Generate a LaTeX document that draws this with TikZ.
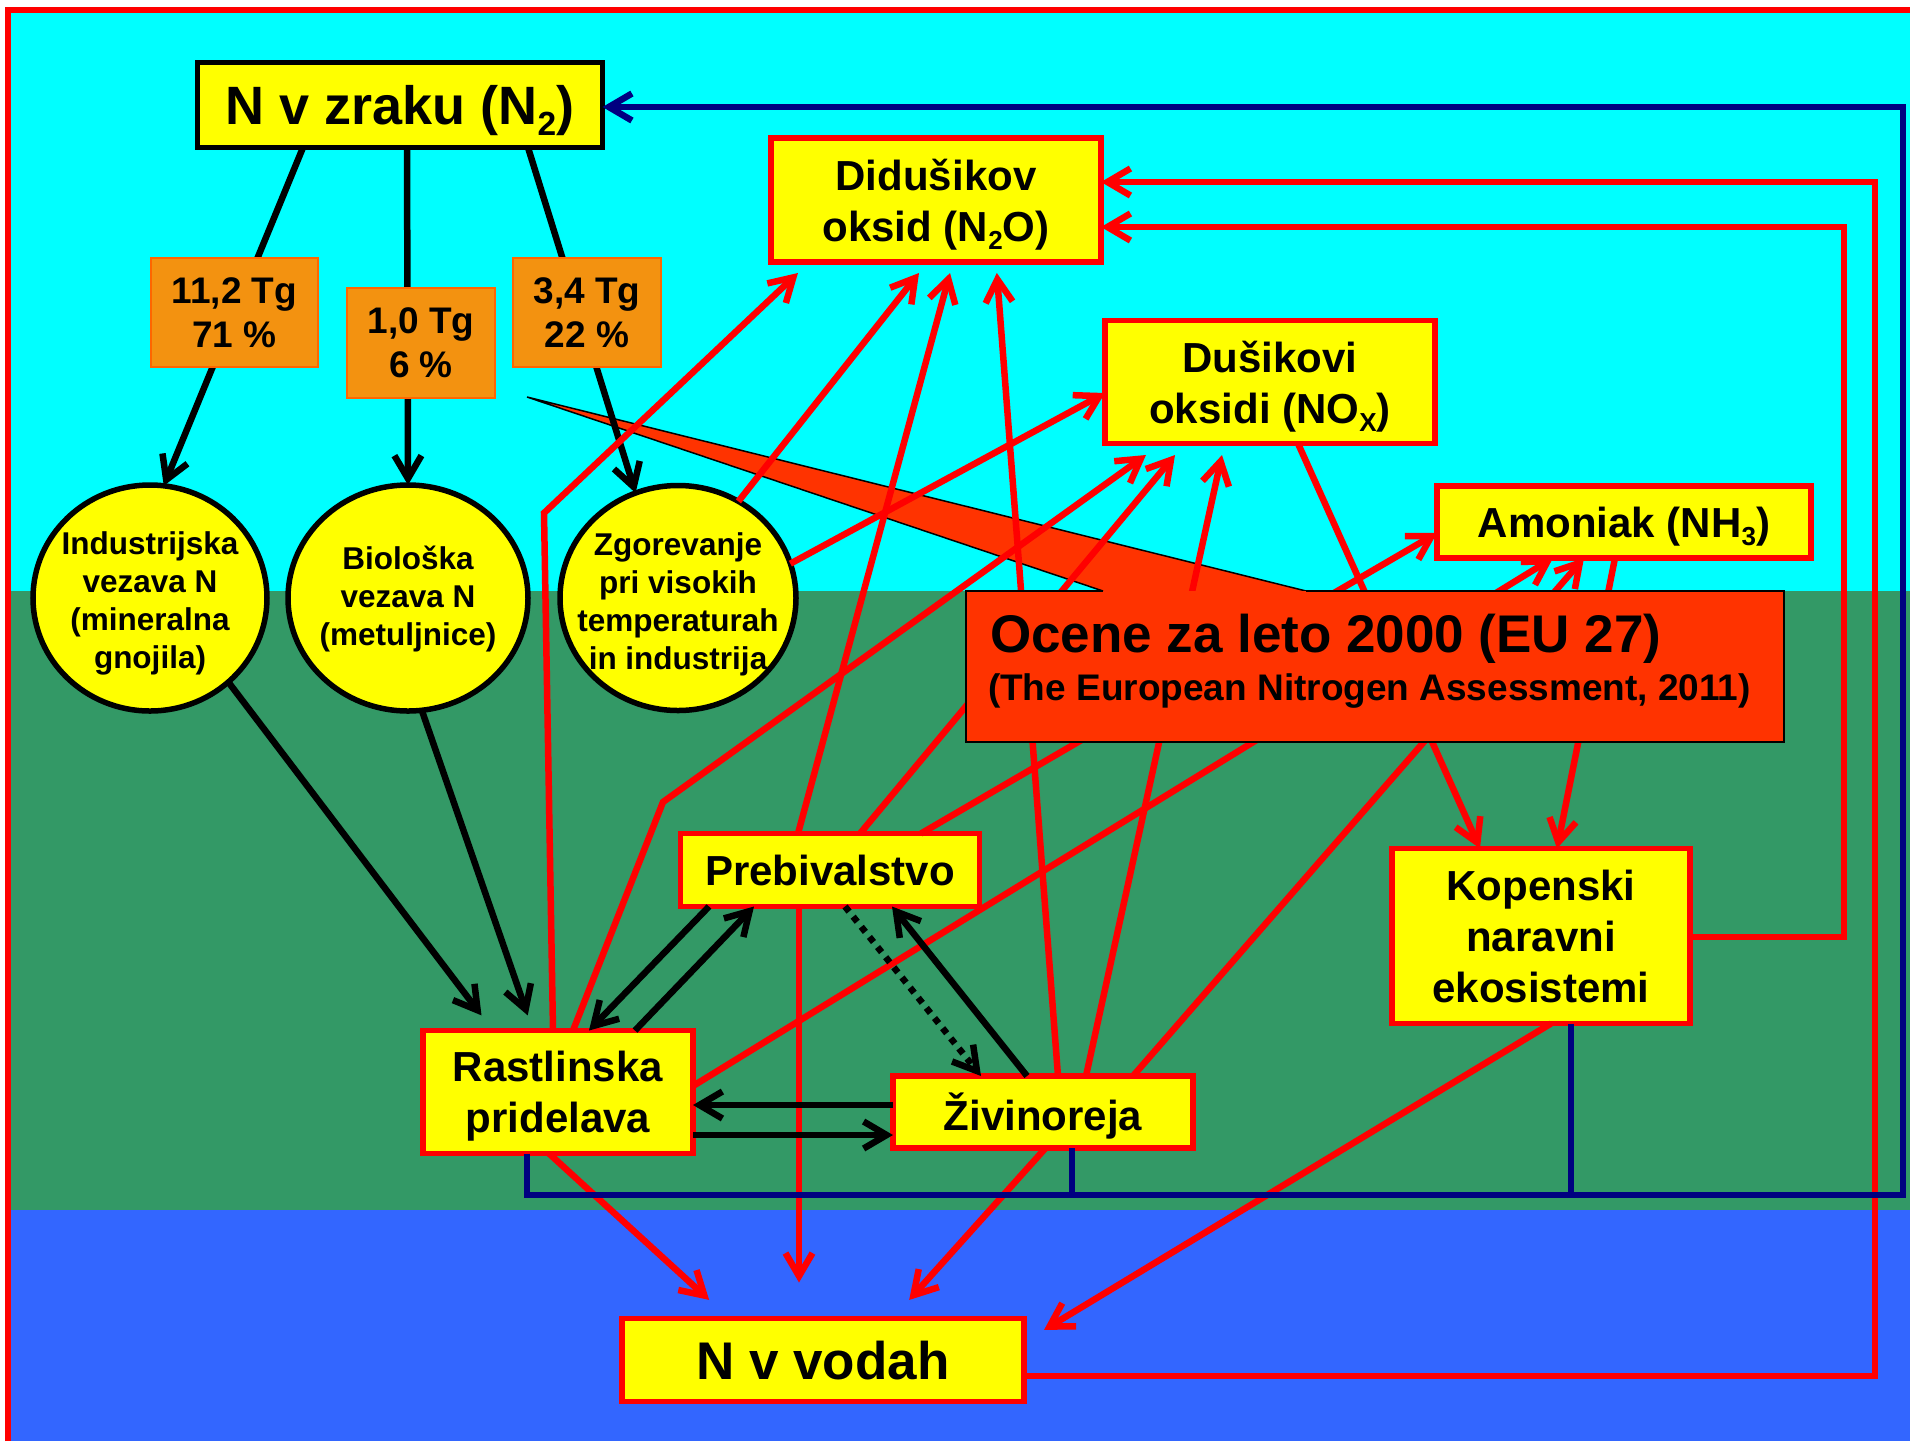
\documentclass[tikz,border=0pt]{standalone}
\usepackage{graphicx}
\usepackage{fontspec}
\setmainfont{Liberation Sans}
\usetikzlibrary{arrows.meta,shapes.geometric}

\definecolor{skyc}{RGB}{0,255,255}
\definecolor{landc}{RGB}{51,153,102}
\definecolor{waterc}{RGB}{51,102,255}
\definecolor{boxy}{RGB}{255,255,0}
\definecolor{flowred}{RGB}{255,0,0}
\definecolor{returnnavy}{RGB}{0,0,128}
\definecolor{tagorange}{RGB}{243,146,16}
\definecolor{tagedge}{RGB}{255,102,0}
\definecolor{notec}{RGB}{255,51,0}

% lowered chemical index
\newcommand\lowidx[1]{\raisebox{-0.2em}{\scalebox{0.62}{#1}}}

\tikzset{
  tight/.style={inner sep=0pt, outer sep=0pt},
  redbox/.style={tight, rectangle, draw=flowred, line width=5.5pt, fill=boxy,
    font=\fontsize{42}{51}\selectfont\bfseries, align=center, text depth=0pt},
  airbox/.style={redbox, draw=black, line width=5.5pt,
    font=\fontsize{54}{60}\selectfont\bfseries},
  tagbox/.style={tight, rectangle, fill=tagorange, draw=tagedge, line width=2pt,
    font=\fontsize{37}{44}\selectfont\bfseries, align=center, text depth=0pt},
  fixoval/.style={tight, ellipse, draw=black, line width=5.5pt, fill=boxy},
  ovaltext/.style={tight, font=\fontsize{31.5}{38}\selectfont\bfseries,
    align=center, text depth=0pt},
  barb/.style={-{Straight Barb[length=23pt,width=27pt]}},
  redflow/.style={barb, draw=flowred, line width=6.5pt},
  blackflow/.style={barb, draw=black, line width=6.5pt},
  navyline/.style={draw=returnnavy, line width=6.5pt},
}

\begin{document}
\begin{tikzpicture}[x=1pt, y=-1pt, line join=miter]
\useasboundingbox (0,0) rectangle (1910,1441);

% atmosphere, land and water bands with the frame
\fill[white] (0,0) rectangle (1910,1441);
\fill[skyc] (8,9) rectangle (1910,591);
\fill[landc] (8,591) rectangle (1910,1210);
\fill[waterc] (8,1210) rectangle (1910,1441);
\draw[flowred, line width=6pt] (8,1441) -- (8,9.5) -- (1910,9.5);

% pointer of the estimate note
\fill[notec] (1103,591) -- (527,397) -- (1306,591) -- cycle;
\draw[black, line width=1.5pt] (1103,591) -- (527,397) -- (1306,591);

% pools
\node[airbox, minimum width=405pt, minimum height=85pt] (nair) at (400,105) {N v zraku (N\lowidx{2})};
\node[fixoval, minimum width=234pt, minimum height=226pt] (c1) at (150,598) {};
\node[fixoval, minimum width=240pt, minimum height=226pt] (c2) at (408,598) {};
\node[fixoval, minimum width=236pt, minimum height=225pt] (c3) at (678,598) {};
\node[ovaltext] (c1t) at ([yshift=-2.5pt]c1.center) {Industrijska\\vezava N\\(mineralna\\gnojila)};
\node[ovaltext] (c2t) at ([yshift=2pt]c2.center) {Biološka\\vezava N\\(metuljnice)};
\node[ovaltext] (c3t) at ([yshift=-3pt]c3.center) {Zgorevanje\\pri visokih\\temperaturah\\in industrija};
\node[redbox, minimum width=330pt, minimum height=124pt] (n2o) at (936,200) {Didušikov\\oksid (N\lowidx{2}O)};
\node[redbox, minimum width=330pt, minimum height=123pt] (nox) at (1270,382) {Dušikovi\\oksidi (NO\lowidx{X})};
\node[redbox, minimum width=374pt, minimum height=72pt] (nh3) at (1624,522) {Amoniak (NH\lowidx{3})};
\node[redbox, minimum width=299pt, minimum height=73pt] (preb) at (830,870) {Prebivalstvo};
\node[redbox, minimum width=270pt, minimum height=123pt] (rast) at (558,1092) {Rastlinska\\pridelava};
\node[redbox, minimum width=300pt, minimum height=72pt] (ziv) at (1043,1112) {Živinoreja};
\node[redbox, minimum width=298pt, minimum height=175pt] (kop) at (1541,936) {Kopenski\\naravni\\ekosistemi};
\node[redbox, minimum width=402pt, minimum height=83pt, font=\fontsize{53}{60}\selectfont\bfseries] (wat) at (823,1360) {N v vodah};

% bends and corners of the routed connectors
\coordinate (kinkA) at (544,513);
\coordinate (kinkB) at (663,802);
\coordinate (busL) at (527,1195);
\coordinate (busR) at (1903,1195);
\coordinate (busT) at (1903,107);
\coordinate (wetR) at (1875,1376);
\coordinate (wetT) at (1875,182);
\coordinate (landR) at (1844,937);
\coordinate (landT) at (1844,227);

% fixation of atmospheric nitrogen
\draw[blackflow] (nair.south -| 303,0) -- (c1.83);
\draw[blackflow] (nair.south -| 407,0) -- (c2.north);
\draw[blackflow] (nair.south -| 528,0) -- (c3.112);
\node[tagbox, minimum width=167pt, minimum height=109pt] (t1) at (234.5,312.5) {11,2 Tg\\71 \%};
\node[tagbox, minimum width=148pt, minimum height=110pt] (t2) at (421,343) {1,0 Tg\\6 \%};
\node[tagbox, minimum width=148pt, minimum height=109pt] (t3) at (587,312.5) {3,4 Tg\\22 \%};

% emissions to the atmosphere
\draw[redflow, shorten >=16pt] (rast.north -| 553,0) -- (kinkA) -- (n2o.south -| 809.6,0);
\draw[redflow, shorten >=14pt] (c3.58) -- (n2o.south -| 927.7,0);
\draw[redflow, shorten >=11.4pt] (preb.north -| 798,0) -- (n2o.south -| 953,0);
\draw[redflow, shorten >=11pt] (ziv.north -| 1058,0) -- (n2o.south -| 996,0);
\draw[redflow] (wat.east |- wetR) -- (wetR) -- (wetT) -- (n2o.east |- wetT);
\draw[redflow] (kop.east |- landR) -- (landR) -- (landT) -- (n2o.east |- landT);
\draw[redflow] (c3.17) -- (nox.west |- 0,393);
\draw[redflow, shorten >=19.7pt] (rast.north -| 573,0) -- (kinkB) -- (nox.south -| 1162,0);
\draw[redflow, shorten >=15pt] (preb.north -| 860,0) -- (nox.south -| 1184.6,0);
\draw[redflow, shorten >=11.8pt] (ziv.north -| 1086,0) -- (nox.south -| 1224.5,0);
\draw[redflow] (nox.south -| 1298,0) -- (kop.north -| 1480,0);
\draw[redflow] (preb.north -| 921,0) -- (nh3.west |- 0,533);
\draw[redflow] (rast.east |- 0,1086) -- (nh3.south -| 1553,0);
\draw[redflow] (ziv.north -| 1133,0) -- (nh3.south -| 1584,0);
\draw[redflow] (nh3.south -| 1615,0) -- (kop.north -| 1557,0);

% losses to water
\draw[redflow, shorten >=36pt] (preb.south -| 799,0) -- (wat.north -| 799,0);
\draw[redflow, shorten >=27.6pt] (rast.south -| 549,0) -- (wat.north -| 729.5,0);
\draw[redflow, shorten >=24.9pt] (ziv.south -| 1045.6,0) -- (wat.north -| 892.5,0);
\draw[redflow, shorten >=23.4pt] (kop.south -| 1551,0) -- (wat.east |- 0,1342);

% return of N2 by denitrification
\draw[navyline, barb] (rast.south -| busL) -- (busL) -- (busR) -- (busT) -- (nair.east |- busT);
\draw[navyline] (ziv.south -| 1072,0) -- (busL -| 1072,0);
\draw[navyline] (kop.south -| 1571,0) -- (busL -| 1571,0);

% exchanges between agriculture and population
\draw[blackflow, shorten >=19pt] (c1.-47) -- (rast.north -| 493,0);
\draw[blackflow, shorten >=16pt] (c2.-83) -- (rast.north -| 533,0);
\draw[blackflow] (preb.south -| 709,0) -- (rast.north -| 589,0);
\draw[blackflow] (rast.north -| 635,0) -- (preb.south -| 754,0);
\draw[blackflow] (ziv.north -| 1027,0) -- (preb.south -| 892,0);
\draw[blackflow, dash pattern=on 6.5pt off 6.5pt] (preb.south -| 845,0) -- (ziv.north -| 981,0);
\draw[blackflow] (ziv.west |- 0,1105) -- (rast.east |- 0,1105);
\draw[blackflow] (rast.east |- 0,1135) -- (ziv.west |- 0,1135);

% estimate note
\fill[notec] (966,591) rectangle (1784,742);
\draw[black, line width=1.5pt] (1103,591) -- (966,591) -- (966,742) -- (1784,742) -- (1784,591) -- (1306,591);
\node[tight, anchor=base west, font=\fontsize{53}{60}\selectfont\bfseries] (notetitle) at (990,652) {Ocene za leto 2000 (EU 27)};
\node[tight, anchor=base west, font=\fontsize{37}{44}\selectfont\bfseries] (notesrc) at (988,700) {(The European Nitrogen Assessment, 2011)};
\end{tikzpicture}
\end{document}
